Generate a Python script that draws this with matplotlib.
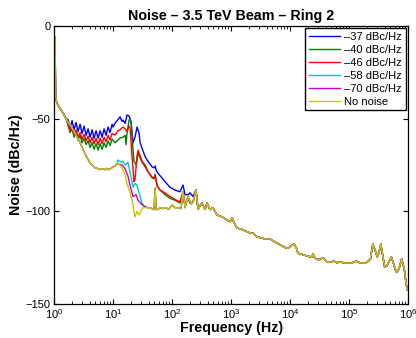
import numpy as np
import matplotlib
matplotlib.use("Agg")
import matplotlib.pyplot as plt
from matplotlib.ticker import LogLocator, NullFormatter, FixedLocator

# --- dados ---
# trecho inicial comum a todas as curvas
head_f = [1.0, 1.04, 1.06, 1.08, 1.12, 1.2, 1.3, 1.45, 1.6]
head_db = [-5, -6.5, -37, -39.5, -41.5, -43.5, -45, -47.5, -50]

# grade de frequencias com ondulacao (curvas com ruido alto)
osc_f = [1.73, 1.87, 2.02, 2.18, 2.36, 2.55, 2.76, 2.98, 3.23, 3.49, 3.77, 4.08,
         4.41, 4.76, 5.15, 5.57, 6.02, 6.51, 7.04, 7.61, 8.23, 8.90, 9.62]
blue_osc = [-50.5, -55, -51, -56, -52, -57, -53, -58, -54, -59, -55.5, -60,
            -56, -60.5, -56.5, -60.5, -56.5, -60, -55.5, -59, -54.5, -57.5, -53]
red_osc = [-53, -56.5, -54.5, -58.5, -56, -60, -57.5, -61, -58.5, -62, -59.5, -63,
           -60, -63.5, -60.5, -64, -60.5, -63.5, -60, -62.5, -59, -61.5, -58]
green_osc = [-53.5, -57.5, -55.5, -60, -57.5, -61.5, -59, -63, -60.5, -64, -62, -65.5,
             -63, -66.5, -63.5, -67, -63.5, -66.5, -63, -65.5, -62, -64.5, -61]

# trecho medio das curvas altas
blue_mid_f = [10.0, 10.8, 12.1, 13.1, 14.2, 14.7, 16.0, 17.2, 18.6, 20.2, 21.8, 23.5,
              25.5, 27.6, 28.7, 31.0, 34.9, 39.0, 45.8, 49.5, 51.5, 54.0, 57.9, 67.6,
              76.0, 92.0, 112, 136, 153, 166, 186, 201, 227, 254, 275]
blue_mid_db = [-54.5, -52.4, -50.5, -49, -51.5, -50.7, -52.5, -48, -48.5, -52, -63, -60,
               -54.5, -58, -63, -66, -70.5, -73, -76, -76.5, -75.5, -78, -79.5, -82,
               -84, -87, -88.5, -89.5, -85.8, -91, -91, -90, -92, -88.5, -98]
red_mid_f = [10.8, 12.1, 13.1, 14.7, 16.0, 17.2, 18.6, 19.4, 20.9, 22.6, 23.5, 25.5,
             26.5, 28.7, 31.0, 34.9, 39.0, 45.8, 49.5, 51.5, 55.7, 62.6, 76.0, 92.0,
             112, 136, 153, 166, 186, 201, 227, 254, 275]
red_mid_db = [-58.8, -56.5, -56, -54.5, -55.5, -57, -54, -55, -70, -84, -83, -70,
              -67, -70, -73, -75, -78.6, -81.5, -82, -80.5, -86, -88.5, -90, -92,
              -93.5, -95, -89.5, -96.5, -92, -95.5, -95, -88.5, -99]
green_mid_f = [10.8, 12.1, 13.1, 14.7, 16.0, 16.6, 17.2, 18.6, 19.4, 20.2, 21.8, 22.6,
               24.6, 26.5, 28.7, 31.0, 34.9, 39.0, 45.8, 49.5, 51.5, 55.7, 62.6, 76.0,
               92.0, 112, 136, 153, 166, 186, 201, 227, 254, 275]
green_mid_db = [-63, -61.5, -60.5, -60, -59, -64, -58, -51, -49.6, -52, -67, -73,
                -75, -68.7, -71, -73.5, -76, -78.5, -82, -82.5, -80, -86.5, -88.5, -91,
                -93, -94, -95.5, -91, -97, -92, -95.5, -95, -88.5, -99]

# curvas de ruido baixo: trecho comum apos o inicio
low_f = [1.73, 2.02, 2.36, 2.76, 3.35, 4.08, 4.95, 5.6, 6.02, 6.6, 7.3, 7.8, 8.2, 8.9, 9.5,
         10.0, 10.8, 11.5]
low_db = [-52, -55, -59, -63, -69, -74, -76.5, -77, -77.5, -77, -77.5, -76.8, -77.5, -77,
          -76.5, -76, -75.5, -74.5]

cyan_mid_f = [12.1, 13.6, 14.7, 16.0, 17.9, 19.4, 21.8, 23.5, 25.5, 27.6, 31.0, 34.9, 39.0]
cyan_mid_db = [-72.3, -73.5, -73, -75, -73.5, -79, -87, -85, -86, -90, -95.7, -97.6, -98]
mag_mid_f = [12.1, 14.2, 16.0, 17.9, 19.4, 21.8, 24.6, 26.5, 29.9, 34.9, 39.0]
mag_mid_db = [-74.5, -75, -77, -81, -86, -92, -91, -94, -96, -97.6, -98]
yel_mid_f = [12.1, 14.2, 16.0, 17.2, 19.4, 21.0, 23.5, 25.5, 27.6, 29.9, 32.3, 39.0]
yel_mid_db = [-74, -76.6, -80, -85, -90, -94, -103, -100, -102, -99.5, -98, -98]

low_tail_f = [42.4, 47.6, 49.5, 51.5, 53.6, 57.9, 62.6, 70.3, 79, 87, 100, 112, 126, 142,
              153, 166, 186, 210, 227, 254, 275]
low_tail_db = [-98, -99, -99, -87.5, -99, -99, -98, -98.5, -98, -99, -96.6, -98, -98, -98.5,
               -89.5, -98, -92, -96, -95, -88.5, -99]

# trecho final comum a todas as curvas
tail_f = [298, 322, 362, 392, 439, 495, 577, 705, 852, 965, 1040, 1120, 1260, 1590, 1860,
          2100, 2370, 2750, 3390, 3900, 4550, 5500, 6700, 8200, 9300, 10400, 11700, 12700,
          13600, 16900, 20300, 23500, 24400, 26200, 28000, 32000, 36600, 41200, 47000,
          55300, 62400, 69500, 81000, 102000, 119000, 134000, 152000, 187000, 210000,
          230000, 252000, 276000, 300000, 323000, 345000, 372000, 400000, 435000, 477000,
          520000, 565000, 600000, 640000, 700000, 780000, 860000, 925000, 970000, 1000000]
tail_db = [-97, -95.5, -99, -95.5, -99, -98, -102, -103, -104.7, -105.5, -103.6, -106, -109,
           -110, -111, -111.7, -111.8, -113.8, -114.5, -115, -114.8, -116.5, -118, -119.5,
           -120, -118.5, -117.6, -119.5, -122.6, -123.5, -124.3, -124.6, -123, -125, -125.9,
           -126, -125, -127, -127.5, -126.8, -127.8, -127.2, -127.8, -128, -127.5, -126.7,
           -127.8, -128, -127, -125.7, -117.6, -121, -124.6, -122, -117.6, -124, -130,
           -129.5, -127, -124.6, -128, -131, -133, -131, -125.7, -131, -139, -142.5, -142]

labels = ['\u201337 dBc/Hz', '\u201340 dBc/Hz', '\u201346 dBc/Hz',
          '\u201358 dBc/Hz', '\u201370 dBc/Hz', 'No noise']
cores = ['#0000ff', '#008000', '#ff0000', '#00c8c8', '#c800c8', '#c8c800']

plt.rcParams['font.family'] = ['Liberation Sans', 'DejaVu Sans']

# --- montagem das curvas ---
series = [
    (head_f + osc_f + blue_mid_f + tail_f, head_db + blue_osc + blue_mid_db + tail_db),
    (head_f + osc_f + green_mid_f + tail_f, head_db + green_osc + green_mid_db + tail_db),
    (head_f + osc_f + red_mid_f + tail_f, head_db + red_osc + red_mid_db + tail_db),
    (head_f + low_f + cyan_mid_f + low_tail_f + tail_f,
     head_db + low_db + cyan_mid_db + low_tail_db + tail_db),
    (head_f + low_f + mag_mid_f + low_tail_f + tail_f,
     head_db + low_db + mag_mid_db + low_tail_db + tail_db),
    (head_f + low_f + yel_mid_f + low_tail_f + tail_f,
     head_db + low_db + yel_mid_db + low_tail_db + tail_db),
]

fig = plt.figure(figsize=(4.16, 3.38), dpi=100)
ax = fig.add_axes([0.13, 0.1006, 0.851, 0.8224])

for (f, db), lab, c in zip(series, labels, cores):
    ax.semilogx(f, db, color=c, lw=1.0, label=lab)

ax.set_xlim(1, 1e6)
ax.set_ylim(-150, 0)
ax.yaxis.set_major_locator(FixedLocator([-150, -100, -50, 0]))
ax.xaxis.set_major_locator(LogLocator(base=10, numticks=10))
ax.xaxis.set_minor_locator(LogLocator(base=10, subs=np.arange(2, 10), numticks=10))
ax.xaxis.set_minor_formatter(NullFormatter())
ax.tick_params(which='both', direction='in', top=True, right=True, labelsize=8)
ax.tick_params(which='major', length=3.5, width=0.8, pad=2.5)
ax.tick_params(which='minor', length=2, width=0.6)
for s in ax.spines.values():
    s.set_linewidth(0.9)

ax.set_title('Noise \u2013 3.5 TeV Beam \u2013 Ring 2', fontsize=10.3, fontweight='bold', pad=4)
ax.set_xlabel('Frequency (Hz)', fontsize=10.3, fontweight='bold', labelpad=0)
ax.set_ylabel('Noise (dBc/Hz)', fontsize=10.3, fontweight='bold', labelpad=2)

leg = ax.legend(loc='upper right', fontsize=8, handlelength=2.8, handletextpad=0.4,
                borderpad=0.35, labelspacing=0.26, fancybox=False, framealpha=1,
                borderaxespad=0.2)
leg.get_frame().set_edgecolor('black')
leg.get_frame().set_linewidth(1.0)

fig.savefig('out.png', dpi=100)
